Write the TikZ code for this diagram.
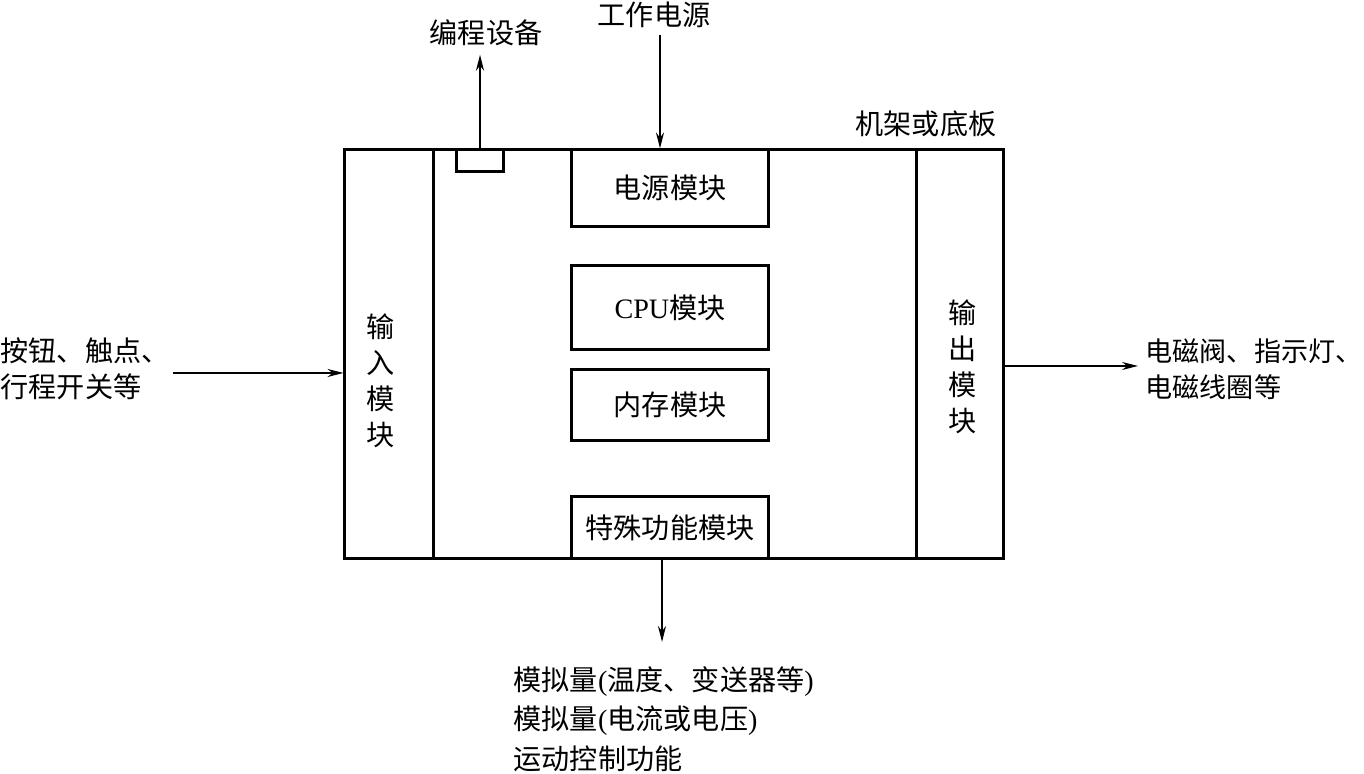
\documentclass[tikz,border=0pt]{standalone}
\usepackage{fontspec}
\setmainfont{Noto Sans CJK SC}
\newfontfamily\latfont{Liberation Serif}
\usepackage{tikz}
\usetikzlibrary{positioning,arrows.meta,calc}

\begin{document}
\begin{tikzpicture}[x=0.01cm, y=-0.01cm,
  rack/.style={draw, line width=0.85pt, minimum width=6.58cm, minimum height=4.08cm, inner sep=0pt},
  iomod/.style={draw, line width=0.85pt, minimum height=4.08cm, inner sep=0pt},
  modbox/.style={draw, line width=0.85pt, minimum width=1.96cm, inner sep=0pt,
                 font=\fontsize{8}{10}\selectfont},
  lbl/.style={inner sep=0pt, font=\fontsize{8}{10.2}\selectfont},
  arr/.style={-{Stealth[length=1.6mm, width=0.8mm]}, line width=0.45pt},
]
\useasboundingbox (0,0) rectangle (1364,774);

\node[rack] (rack) at (674,354) {};
\node[iomod, minimum width=0.88cm] (inmod)  at (389,354) {};
\node[iomod, minimum width=0.86cm] (outmod) at (960,354) {};
\node[draw, line width=0.85pt, minimum width=0.46cm, minimum height=0.22cm, inner sep=0pt] (port) at (480,161) {};

\node[modbox, minimum height=0.76cm] (power)   at (670,188)   {电源模块};
\node[modbox, minimum height=0.83cm] (cpu)     at (670,307.5) {{\latfont CPU}模块};
\node[modbox, minimum height=0.70cm] (mem)     at (670,405)   {内存模块};
\node[modbox, minimum height=0.61cm] (special) at (670,527.5) {特殊功能模块};

\node[lbl, align=center] (intxt)  at (381,381) {输\\入\\模\\块};
\node[lbl, align=center] (outtxt) at (963,367) {输\\出\\模\\块};

\node[lbl] (prog)   at (486,33)  {编程设备};
\node[lbl] (supply) at (654,15)  {工作电源};
\node[lbl] (rlabel) at (926,124) {机架或底板};

\node[lbl, anchor=west, align=left] (src) at (0,369) {按钮、触点、\\行程开关等};
\node[lbl, anchor=west, align=left, font=\fontsize{7.7}{10.2}\selectfont] (dst) at (1145,369)
  {电磁阀、指示灯、\\电磁线圈等};
\node[lbl, anchor=north west, align=left, font=\fontsize{8}{11.2}\selectfont] (analog) at (513,666)
  {模拟量{\latfont (}温度、变送器等{\latfont )}\\模拟量{\latfont (}电流或电压{\latfont )}\\运动控制功能};

\draw[arr] (port.north) -- (port.north |- prog.south) [shorten >=0.8mm];
\draw[arr, shorten <=0.6mm] ([xshift=-1mm]power.north |- supply.south) -- ([xshift=-1mm]power.north);
\draw[arr, shorten <=0.3mm] (src.east |- 0,373) -- (inmod.west |- 0,373);
\draw[arr, shorten >=0.7mm] (outmod.east |- 0,366) -- (dst.west |- 0,366);
\draw[arr, shorten >=2.4mm] ([xshift=-0.8mm]special.south) -- ([xshift=-0.8mm]special.south |- analog.north);
\end{tikzpicture}
\end{document}
